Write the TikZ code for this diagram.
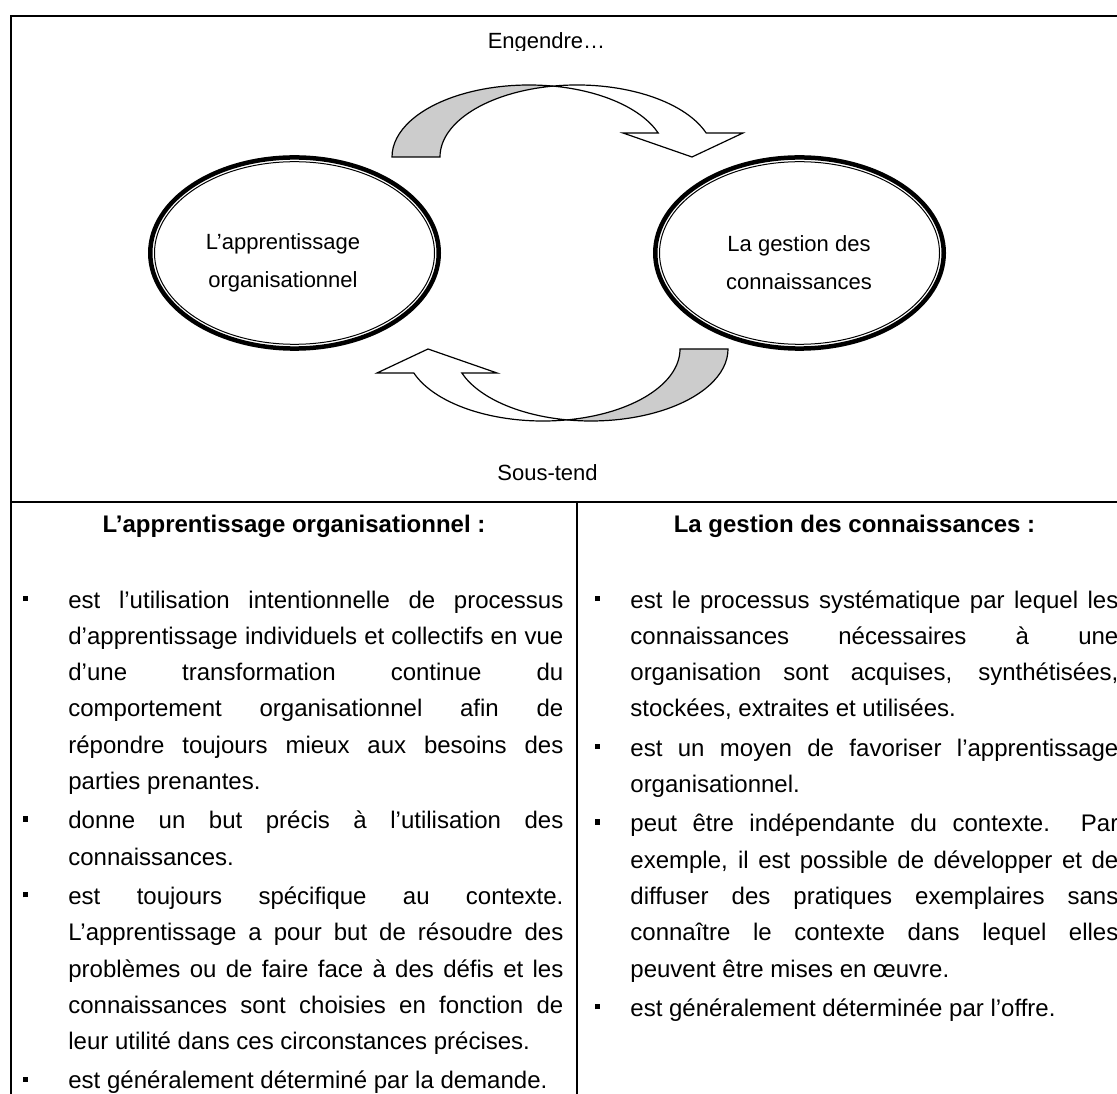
\documentclass[tikz,border=0pt]{standalone}
\usepackage{fontspec}
\setmainfont{Liberation Sans}
\usetikzlibrary{positioning}

\newcommand{\puce}[1]{\noindent\llap{\rule[3.5pt]{2.7pt}{2.7pt}\hspace{#1}}\ignorespaces}
\newcommand{\policecorps}{\fontsize{12}{18.15}\selectfont\tolerance=10000\relax
  \hyphenpenalty=10000\relax\setlength{\parskip}{1.5pt}\relax}

\tikzset{
  cadre/.style={line width=1pt},
  bord/.style={line width=2.25pt},
  filet/.style={line width=0.5pt},
  dos/.style={fill=black!20,draw=black,line width=0.6pt},
  face/.style={fill=white,draw=black,line width=0.6pt},
  legende/.style={font=\fontsize{11}{13}\selectfont,inner sep=0pt,anchor=base},
  bulle/.style={align=center,font=\fontsize{11}{19}\selectfont,inner sep=0pt},
  titre/.style={font=\bfseries\fontsize{12}{14}\selectfont,inner sep=0pt,anchor=base},
  corps/.style={align=justify,inner sep=0pt,anchor=base west,font=\policecorps},
  fleche/.pic={
    \filldraw[dos] (-168,96) arc[start angle=180,end angle=79.91,x radius=137,y radius=72]
      arc[start angle=100.09,end angle=180,x radius=137,y radius=72] -- cycle;
    \filldraw[face] (-7,166.89) arc[start angle=100.09,end angle=19.47,x radius=137,y radius=72]
      -- (183,120) -- (132,96) -- (63,120) -- (98.17,120)
      arc[start angle=19.47,end angle=79.91,x radius=137,y radius=72] -- cycle;
  }
}

\begin{document}
\begin{tikzpicture}[x=0.5pt,y=0.5pt]
\useasboundingbox (0,0) rectangle (1117,1093);
\clip (0,0) rectangle (1117,1093);
\draw[cadre] (11,-20) -- (11,1077) -- (1140,1077);
\draw[cadre] (11,591) -- (1140,591);
\draw[cadre] (577,591) -- (577,-20);
\draw[bord] (294.5,840) ellipse [x radius=144.25,y radius=95.55];
\draw[filet] (294.5,840) ellipse [x radius=140,y radius=91.3];
\draw[bord] (799.5,840) ellipse [x radius=144.25,y radius=95.55];
\draw[filet] (799.5,840) ellipse [x radius=140,y radius=91.3];
\pic at (560,840) {fleche};
\pic[rotate=180] at (560,840) {fleche};
\node[bulle] (ao) at (283,830) {L’apprentissage\\organisationnel};
\node[bulle] (gc) at (799,830) {La gestion des\\connaissances};
\begin{scope}
\clip (400,1042.5) rectangle (700,1070);
\node[legende] (eng) at (546.5,1044) {Engendre…};
\end{scope}
\begin{scope}
\clip (400,610) rectangle (700,640);
\node[legende] (st) at (547.5,612) {Sous-tend};
\end{scope}
\node[titre] (ta) at (294,560) {L’apprentissage organisationnel :};
\node[titre] (tg) at (854.5,560) {La gestion des connaissances :};
\node[corps,text width=247.5pt] (ca) at (68,485) {%
\puce{20pt}est l’utilisation intentionnelle de processus \linebreak
d’apprentissage individuels et collectifs en vue \linebreak
d’une transformation continue du \linebreak
comportement organisationnel afin de \linebreak
répondre toujours mieux aux besoins des \linebreak
parties prenantes.\par
\puce{20pt}donne un but précis à l’utilisation des \linebreak
connaissances.\par
\puce{20pt}est toujours spécifique au contexte. \linebreak
L’apprentissage a pour but de résoudre des \linebreak
problèmes ou de faire face à des défis et les \linebreak
connaissances sont choisies en fonction de \linebreak
leur utilité dans ces circonstances précises.\par
\puce{20pt}est généralement déterminé par la demande.};
\node[corps,text width=244pt] (cg) at (630,485) {%
\puce{15pt}est le processus systématique par lequel les \linebreak
connaissances nécessaires à une \linebreak
organisation sont acquises, synthétisées, \linebreak
stockées, extraites et utilisées.\par
\puce{15pt}est un moyen de favoriser l’apprentissage \linebreak
organisationnel.\par
\puce{15pt}peut être indépendante du contexte.\ \ Par \linebreak
exemple, il est possible de développer et de \linebreak
diffuser des pratiques exemplaires sans \linebreak
connaître le contexte dans lequel elles \linebreak
peuvent être mises en œuvre.\par
\puce{15pt}est généralement déterminée par l’offre.};
\end{tikzpicture}
\end{document}
